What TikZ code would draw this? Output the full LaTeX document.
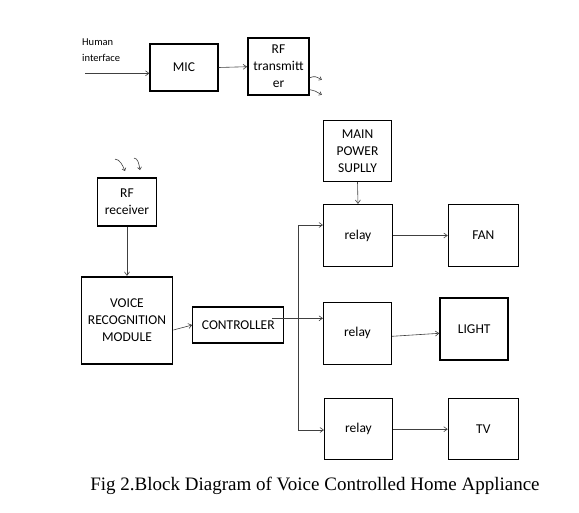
\documentclass[tikz,border=0pt]{standalone}
\usepackage{fontspec}
\setmainfont{Liberation Serif}
\newfontfamily\boxfont{Carlito}
\usetikzlibrary{arrows.meta}
\tikzset{
  blk/.style={draw=black,line width=1.1pt,align=center,inner sep=1pt,font=\boxfont\fontsize{13.5}{17}\selectfont},
  heavy/.style={blk,line width=1.8pt},
  wire/.style={draw=black!75,line width=0.6pt,-{Straight Barb[length=3.5pt,width=5pt]}},
  wave/.style={draw=black!75,line width=0.6pt,-{Straight Barb[length=2.5pt,width=4pt]}}
}
\begin{document}
\begin{tikzpicture}[x=1pt,y=-1pt]
\useasboundingbox (0,0) rectangle (579,512);
% transmitter side
\node[anchor=north west,align=left,inner sep=0pt,font=\boxfont\fontsize{10.5}{16.5}\selectfont] (human) at (82,38.5) {Human\\interface};
\node[blk,minimum width=68pt,minimum height=47pt] (mic) at (184,67.5) {MIC};
\node[heavy,minimum width=61pt,minimum height=57pt] (rftx) at (278.5,66.7) {RF\\transmitt\\er};
\coordinate (hin) at (85,73.3);
\draw[wire] (hin) -- (hin -| mic.west);
\draw[wire] (mic.east) -- (rftx.west);
\draw[wave] ([yshift=-11pt]rftx.east) .. controls +(5,-2) and +(-6,-3) .. +(12,2);
\draw[wave] ([yshift=-23pt]rftx.east) .. controls +(4,0) and +(-6,-3) .. +(12,5);
% receiver side
\node[heavy,minimum width=59pt,minimum height=48pt] (rfrx) at (127,202) {RF\\receiver};
\draw[wave] ([shift={(-12pt,18pt)}]rfrx.north) .. controls +(5,0) and +(-2,-5) .. +(10,12);
\draw[wave] ([shift={(7pt,19pt)}]rfrx.north) .. controls +(4,0) and +(-1,-6) .. +(6,12);
\node[heavy,minimum width=91pt,minimum height=87pt] (vrm) at (127,320.3) {VOICE\\RECOGNITION\\MODULE};
\node[blk,minimum width=91pt,minimum height=36pt] (ctrl) at (238.3,325) {CONTROLLER};
\draw[wire] (rfrx.south) -- (vrm.north);
\draw[wire] ([yshift=-9.7pt]vrm.east) -- ([yshift=0pt]ctrl.west);
% relays and loads
\node[blk,minimum width=68pt,minimum height=61pt] (psu) at (357.5,150.8) {MAIN\\POWER\\SUPLLY};
\node[blk,minimum width=69pt,minimum height=62pt] (relay1) at (358,235.5) {relay};
\node[blk,minimum width=68pt,minimum height=62pt] (relay2) at (357.5,333.3) {relay};
\node[blk,minimum width=68pt,minimum height=61pt] (relay3) at (358.5,429.2) {relay};
\node[blk,minimum width=70pt,minimum height=62pt] (fan) at (483.3,235.5) {FAN};
\node[heavy,minimum width=68pt,minimum height=62pt] (light) at (474.2,328.7) {LIGHT};
\node[blk,minimum width=70pt,minimum height=61pt] (tv) at (483.3,429.2) {TV};
\coordinate (bustop) at (298.3,225);
\coordinate (busbot) at (298.3,430);
\coordinate (split) at (298.3,318.3);
\draw[wire,{Straight Barb[length=3.5pt,width=5pt]}-{Straight Barb[length=3.5pt,width=5pt]}] (bustop -| relay1.west) -- (bustop) -- (busbot) -- (busbot -| relay3.west);
\draw[wire] ([shift={(-12.5pt,6.7pt)}]ctrl.east) -- (split) -- (split -| relay2.west);
\draw[wire] (psu.south) -- (relay1.north);
\draw[wire] (relay1.east) -- (relay1.east -| fan.west);
\draw[wire] ([yshift=-3pt]relay2.east) -- ([yshift=-4.6pt]light.west);
\draw[wire] (relay3.east) -- (relay3.east -| tv.west);
% caption
\node[font=\fontsize{19}{22}\selectfont] (cap) at (315,485.5) {Fig 2.Block Diagram of Voice Controlled Home Appliance};
\end{tikzpicture}
\end{document}
